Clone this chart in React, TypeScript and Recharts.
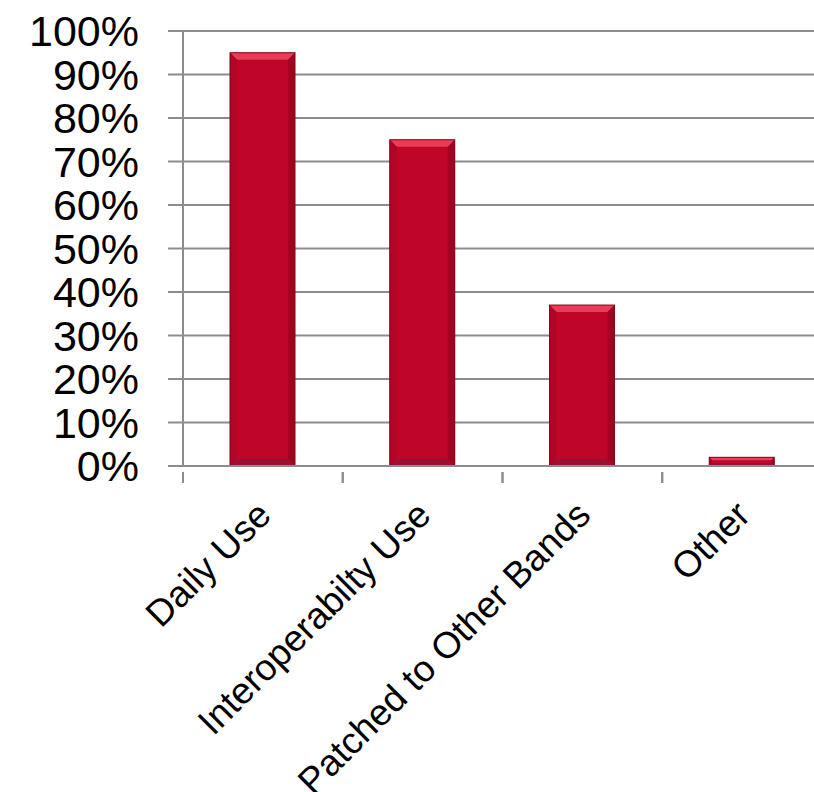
import { BarChart, Bar, XAxis, YAxis, CartesianGrid } from 'recharts';

const categories = ['Daily Use', 'Interoperabilty Use', 'Patched to Other Bands', 'Other'];
const shares = [95, 75, 37, 2];
const yTicks = [0, 10, 20, 30, 40, 50, 60, 70, 80, 90, 100];

const data = categories.map((name, i) => ({ name, share: shares[i] }));

const CHART_W = 830;
const CHART_H = 792;
const LEFT = 183;
const RIGHT = 8;
const BAND = (CHART_W - LEFT - RIGHT) / categories.length;
const GRID = '#8c8c8c';
const FONT = '"Liberation Sans", Arial, sans-serif';

// bar with the bevelled look of the original
const BevelBar = (props: any) => {
  const { x, y, width, height } = props;
  if (!height || height <= 0) return null;
  const b = Math.min(7, height / 3, width / 4);
  return (
    <g>
      <rect x={x} y={y} width={width} height={height} fill="#bf0629" />
      {/* top bevel */}
      <polygon
        points={`${x},${y} ${x + width},${y} ${x + width - b},${y + b} ${x + b},${y + b}`}
        fill="#ea3c56"
      />
      {/* left / right bevel */}
      <polygon
        points={`${x},${y} ${x + b},${y + b} ${x + b},${y + height - b} ${x},${y + height}`}
        fill="#b00526"
      />
      <polygon
        points={`${x + width},${y} ${x + width - b},${y + b} ${x + width - b},${y + height - b} ${x + width},${y + height}`}
        fill="#a10420"
      />
      {/* bottom bevel */}
      <polygon
        points={`${x},${y + height} ${x + b},${y + height - b} ${x + width - b},${y + height - b} ${x + width},${y + height}`}
        fill="#9a1030"
      />
      <rect x={x} y={y} width={width} height={height} fill="none" stroke="#7a0a1c" strokeWidth={1} />
    </g>
  );
};

const XTick = (props: any) => {
  const { x, y, payload } = props;
  const left = x - BAND / 2;
  const ax = y - 2;
  const tx = x + 1;
  const ty = ax + 36;
  return (
    <g>
      <line x1={left} y1={ax} x2={left} y2={ax + 11} stroke={GRID} strokeWidth={2} />
      <line x1={left + BAND} y1={ax} x2={left + BAND} y2={ax + 11} stroke={GRID} strokeWidth={2} />
      <text
        x={tx}
        y={ty}
        textAnchor="end"
        transform={`rotate(-45, ${tx}, ${ty})`}
        fontSize={37}
        fontFamily={FONT}
        fill="#000"
        dy="0.35em"
      >
        {payload.value}
      </text>
    </g>
  );
};

export default function App() {
  return (
    <div style={{ position: 'absolute', left: 0, top: 0, width: 814, height: 792, overflow: 'hidden', background: '#fff' }}>
      <BarChart
        width={CHART_W}
        height={CHART_H}
        data={data}
        margin={{ top: 31, right: RIGHT, left: 0, bottom: 0 }}
      >
        <CartesianGrid vertical={false} stroke={GRID} strokeWidth={2} />
        <XAxis
          dataKey="name"
          interval={0}
          height={326}
          tickLine={false}
          axisLine={{ stroke: GRID, strokeWidth: 2 }}
          tick={<XTick />}
        />
        <YAxis
          width={LEFT}
          domain={[0, 100]}
          ticks={yTicks}
          interval={0}
          tickFormatter={(v: number) => `${v}%`}
          tickSize={15}
          tickMargin={29}
          tickLine={{ stroke: GRID, strokeWidth: 2 }}
          axisLine={{ stroke: GRID, strokeWidth: 2 }}
          tick={{ fontSize: 43, fontFamily: FONT, fill: '#000' }}
        />
        <Bar dataKey="share" barSize={65} shape={<BevelBar />} isAnimationActive={false} />
      </BarChart>
    </div>
  );
}
